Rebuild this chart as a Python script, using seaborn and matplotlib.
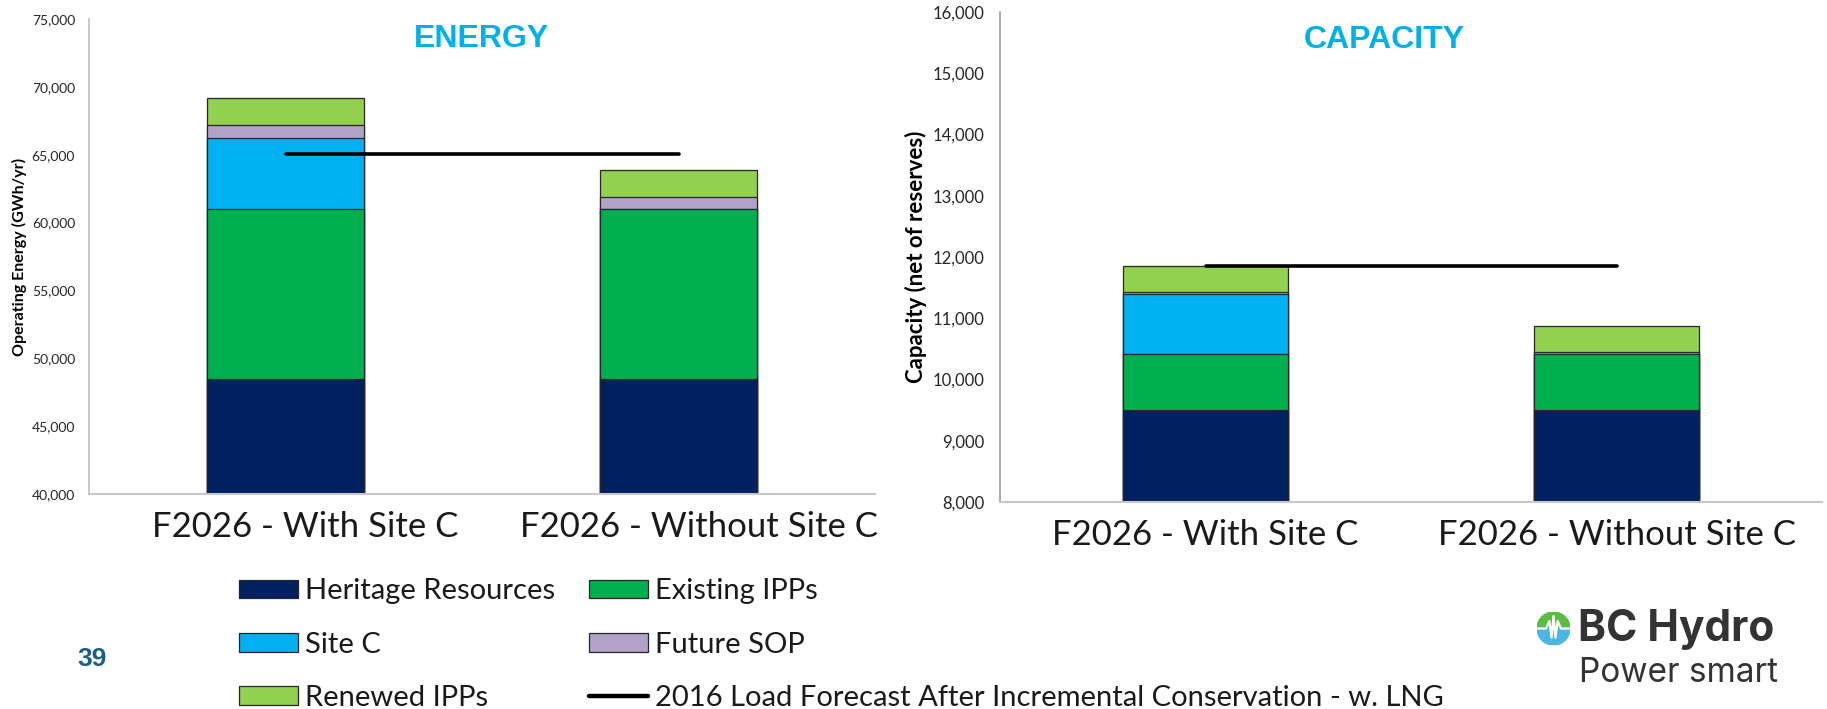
import numpy as np
import matplotlib.pyplot as plt
import seaborn as sns
from matplotlib.patches import Patch, Wedge
from matplotlib.lines import Line2D
from matplotlib.ticker import StrMethodFormatter, MultipleLocator
from matplotlib.transforms import ScaledTranslation

# ------------------------------------------------------------------
# Data
# ------------------------------------------------------------------
categories = ["F2026 - With Site C", "F2026 - Without Site C"]

layer_names = ["Heritage Resources", "Existing IPPs", "Site C", "Future SOP", "Renewed IPPs"]
layer_colors = ["#002060", "#00B050", "#00B0F0", "#B3A2C7", "#92D050"]
load_label = "2016 Load Forecast After Incremental Conservation - w. LNG"

# Energy (GWh/yr)
energy_heritage = [48500, 48500]
energy_existing = [12500, 12500]
energy_site_c = [5250, 0]
energy_sop = [950, 900]
energy_renewed = [1950, 2000]
energy_load = [65050, 65050]

# Capacity (MW, net of reserves)
capacity_heritage = [9500, 9500]
capacity_existing = [910, 910]
capacity_site_c = [980, 0]
capacity_sop = [45, 40]
capacity_renewed = [420, 430]
capacity_load = [11860, 11860]

sns.set_theme(style="white")
plt.rcParams['font.family'] = ['Lato', 'DejaVu Sans']

W, H = 1827, 709
fig = plt.figure(figsize=(W / 100, H / 100), dpi=100)


def px_axes(x0, y_top, x1, y_bot):
    return fig.add_axes([x0 / W, 1 - y_bot / H, (x1 - x0) / W, (y_bot - y_top) / H])


def draw_stack(ax, layers, load, ylim, step, title, title_pos, ylabel, ylabel_size, label_x, spine_col):
    cumulative = np.cumsum(np.array(layers), axis=0)
    # draw tallest cumulative first so each lower layer sits on top of it
    for i in reversed(range(len(layers))):
        sns.barplot(x=categories, y=cumulative[i], color=layer_colors[i], saturation=1,
                    width=0.4, edgecolor="#262626", linewidth=0.9, errorbar=None, ax=ax)
    sns.lineplot(x=categories, y=load, color="black", linewidth=2.6, ax=ax, zorder=5)

    ax.set_xlim(-0.5, 1.5)
    ax.set_ylim(*ylim)
    ax.yaxis.set_major_locator(MultipleLocator(step))
    ax.yaxis.set_major_formatter(StrMethodFormatter("{x:,.0f}"))
    ax.tick_params(axis="y", length=0, pad=10, labelsize=10, labelcolor="#262626")
    ax.tick_params(axis="x", length=0, pad=12, labelsize=25, labelcolor="#1a1a1a")
    ax.set_xlabel("")
    ax.set_ylabel(ylabel, fontsize=ylabel_size, fontweight="bold", color="black")
    ax.yaxis.set_label_coords(label_x, 0.5)
    sns.despine(ax=ax)
    ax.spines["left"].set_color(spine_col)
    ax.spines["bottom"].set_color("#C8C8C8")
    ax.spines["left"].set_linewidth(1.2)
    ax.spines["bottom"].set_linewidth(1.5)
    ax.text(title_pos[0], title_pos[1], title, transform=ax.transAxes, ha="center", va="center",
            fontsize=23, fontweight="bold", color="#00B0E6", family=["Liberation Sans"])


ax_e = px_axes(89, 19, 875, 494)
draw_stack(ax_e,
           [energy_heritage, energy_existing, energy_site_c, energy_sop, energy_renewed],
           energy_load, (40000, 75000), 5000, "ENERGY", (0.5, 0.958),
           "Operating Energy (GWh/yr)", 11.5, -0.079, "#BFBFBF")
# the energy chart's category labels sit a little right of the bars
for lab in ax_e.get_xticklabels():
    lab.set_transform(lab.get_transform() + ScaledTranslation(0.2, 0, fig.dpi_scale_trans))

ax_c = px_axes(1000, 12, 1822, 502)
draw_stack(ax_c,
           [capacity_heritage, capacity_existing, capacity_site_c, capacity_sop, capacity_renewed],
           capacity_load, (8000, 16000), 1000, "CAPACITY", (0.467, 0.943),
           "Capacity (net of reserves)", 16, -0.089, "#9A9A9A")
ax_c.tick_params(axis="y", labelsize=12, pad=11)

# ------------------------------------------------------------------
# Shared legend (column-wise fill: 3 rows x 2 cols)
# ------------------------------------------------------------------
patches = [Patch(facecolor=c, edgecolor="#262626", linewidth=0.9, label=n)
           for n, c in zip(layer_names, layer_colors)]
load_handle = Line2D([0], [0], color="black", linewidth=3.2, label=load_label)
handles = [patches[0], patches[2], patches[4], patches[1], patches[3], load_handle]
fig.legend(handles=handles, loc="upper left", bbox_to_anchor=(219 / W, 1 - 558 / H), ncol=2,
           frameon=False, fontsize=21, handlelength=2.0, handleheight=0.6,
           handletextpad=0.25, columnspacing=1.17, labelspacing=0.93, borderpad=0.2,
           labelcolor="#1a1a1a")

# page number
fig.text(92 / W, 1 - 659 / H, "39", ha="center", va="center", fontsize=19,
         fontweight="bold", color="#1B5E87", family=["Liberation Sans"])

# logo
ax_logo = px_axes(1537, 612, 1570, 645)
ax_logo.set_xlim(-1, 1)
ax_logo.set_ylim(-1, 1)
ax_logo.set_aspect("equal")
ax_logo.axis("off")
ax_logo.add_patch(Wedge((0, 0), 1, 0, 180, color="#5DBB46"))
ax_logo.add_patch(Wedge((0, 0), 1, 180, 360, color="#4BB5E3"))
ax_logo.plot([-0.95, -0.45, -0.25, -0.12, 0, 0.12, 0.25, 0.45, 0.95],
             [0, 0, 0.45, -0.55, 0.75, -0.55, 0.45, 0, 0], color="white", linewidth=1.6)
fig.text(1578 / W, 1 - 630 / H, "BC Hydro", ha="left", va="center", fontsize=30.5,
         fontweight="bold", color="#333333", family=["Inter", "DejaVu Sans"])
fig.text(1579 / W, 1 - 673 / H, "Power smart", ha="left", va="center", fontsize=24,
         color="#333333", family=["Inter", "DejaVu Sans"])

fig.savefig("out.png", dpi=100, facecolor="white")
